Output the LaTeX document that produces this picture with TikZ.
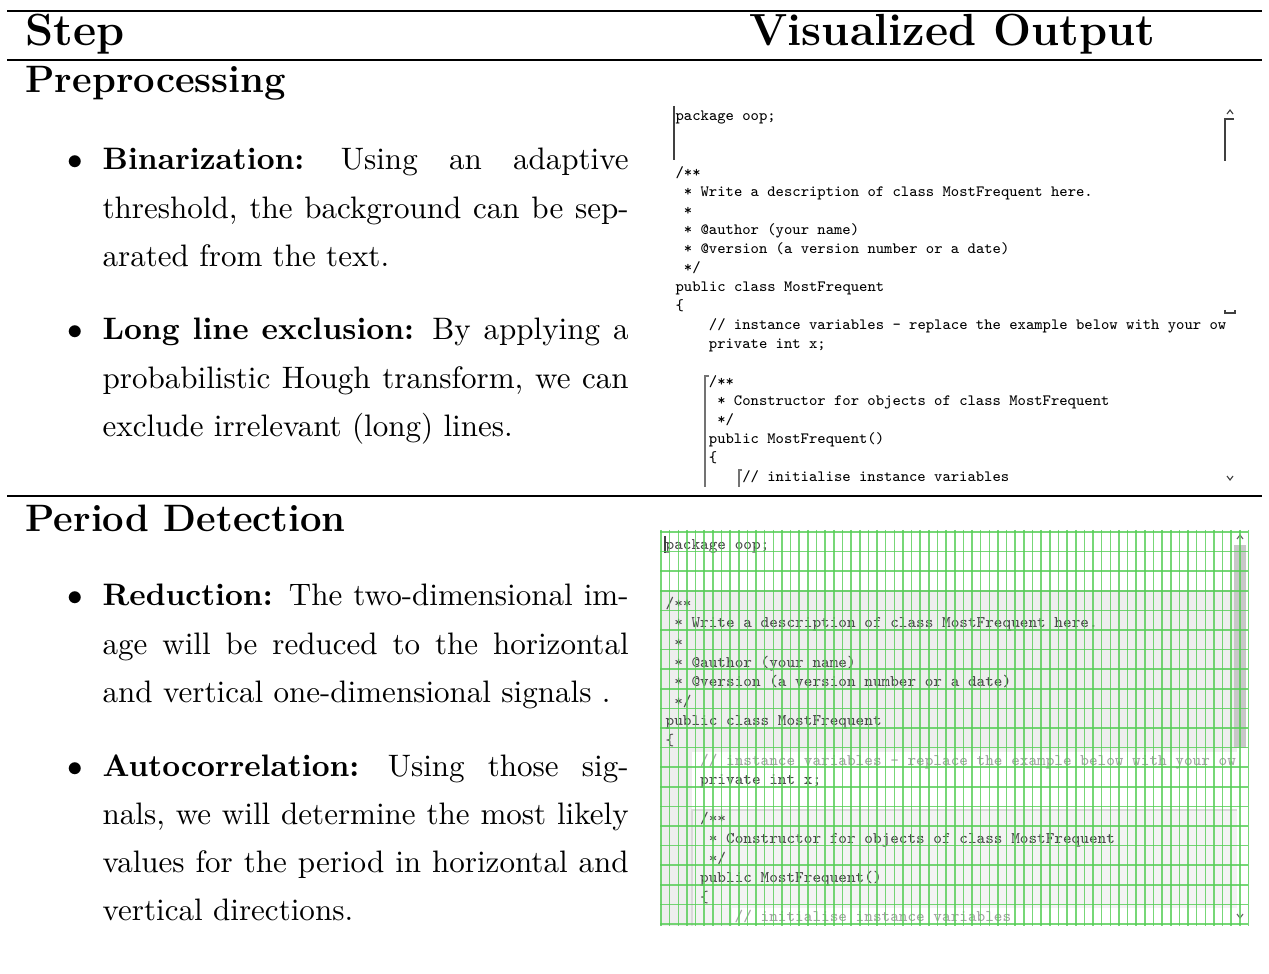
\documentclass[tikz,border=0pt]{standalone}
\usepackage{fontspec}
\usepackage{tikz}

\definecolor{gridgreen}{RGB}{85,205,85}
\definecolor{scopegray}{RGB}{238,238,238}
\definecolor{methodgray}{RGB}{243,243,243}
\definecolor{thumbgray}{RGB}{200,200,200}
\definecolor{codegray}{RGB}{75,75,75}
\definecolor{commentgray}{RGB}{165,165,165}

\newcommand{\fullline}[1]{\makebox[169.4pt][s]{\spaceskip=0.333em plus 1fil minus 0.111em\relax #1}}
\newcommand{\colgap}{\hspace{0pt plus 1fil}}

\tikzset{
  colhead/.style={anchor=base west, inner sep=0pt, font=\fontsize{14.5}{18}\selectfont\bfseries},
  rowhead/.style={anchor=base west, inner sep=0pt, font=\fontsize{12.3}{15}\selectfont\bfseries},
  itembox/.style={anchor=base west, inner sep=0pt, text width=169.4pt, font=\fontsize{10}{15.46}\selectfont},
  itemdot/.style={anchor=base, inner sep=0pt, font=\fontsize{10}{15}\selectfont},
  codeone/.style={anchor=base west, inner sep=0pt, font=\fontsize{5.06}{6}\selectfont\ttfamily},
  codetwo/.style={anchor=base west, inner sep=0pt, font=\fontsize{5.24}{6}\selectfont\ttfamily},
  tabrule/.style={line width=0.6pt},
  gridline/.style={gridgreen, line width=0.5pt, opacity=0.8},
  uimark/.style={line width=0.35pt, black!75},
}

\begin{document}
\begin{tikzpicture}[x=0.322pt, y=-0.322pt]
\fill[white] (0,0) rectangle (1269,974);
\useasboundingbox (0,0) rectangle (1269,974);

%Table Rules
\draw[tabrule] (7,11) -- (1262,11);
\draw[tabrule] (7,60) -- (1262,60);
\draw[tabrule] (7,496) -- (1262,496);

%Headers
\node[colhead] (step) at (25,46) {Step};
\node[colhead] (vis) at (749,46) {Visualized Output};
\node[rowhead] (pre) at (25,93) {Preprocessing};
\node[rowhead] (per) at (25,531) {Period Detection};

%Bullet Items
\foreach \n/\y in {bin/170,lle/340,red/606,aut/776}
  \node[itemdot] (dot-\n) at (75,\y) {$\bullet$};
\node[itembox] (bin) at (102,170) {\fullline{\textbf{Binarization:}\colgap{} Using an adaptive}\\
  \fullline{threshold, the background can be sep-}\\ arated from the text.};
\node[itembox] (lle) at (102,340) {\fullline{\textbf{Long line exclusion:}\colgap{} By applying a}\\
  \fullline{probabilistic Hough transform, we can}\\ exclude irrelevant (long) lines.};
\node[itembox] (red) at (102,606) {\fullline{\textbf{Reduction:}\colgap{} The two-dimensional im-}\\
  \fullline{age will be reduced to the horizontal}\\ and vertical one-dimensional signals .};
\node[itembox] (aut) at (102,776) {\fullline{\textbf{Autocorrelation:}\colgap{} Using those sig-}\\
  \fullline{nals, we will determine the most likely}\\ \fullline{values for the period in horizontal and}\\
  vertical directions.};

%Output 1: plain editor
\foreach \row/\ind/\txt in {0/0/{package oop;},3/0/{/**},
    4/1/{* Write a description of class MostFrequent here.},5/1/{*},
    6/1/{* @author (your name)},7/1/{* @version (a version number or a date)},
    8/1/{*/},9/0/{public class MostFrequent},10/0/{\{},
    11/4/{// instance variables - replace the example below with your ow},
    12/4/{private int x;},14/4/{/**},
    15/5/{* Constructor for objects of class MostFrequent},16/5/{*/},
    17/4/{public MostFrequent()},18/4/{\{},19/8/{// initialise instance variables}}
  \node[codeone] (one-\row) at (675+\ind*8.33,121+\row*19) {\txt};
\draw[uimark] (674,106) -- (674,160);
\draw[uimark, black!55] (709,376) -- (705,376) -- (705,487);
\draw[uimark, black!55] (742,470) -- (739,470) -- (739,487);
\draw[uimark] (1227,114) -- (1230,110) -- (1233,114);
\draw[uimark] (1234,119) -- (1225,119) -- (1225,161);
\draw[uimark] (1225,310) -- (1225,313) -- (1235,313) -- (1235,310);
\draw[uimark] (1227,476) -- (1230,480) -- (1233,476);

%Output 2: editor with period grid
\fill[scopegray] (660,591) rectangle (1237,926);
\draw[black!15] (660,591) -- (1237,591);
\fill[white] (692,752) rectangle (1237,810);
\fill[methodgray] (692,810) rectangle (1237,926);
\draw[black!15] (692,926) -- (692,810) -- (1237,810);
\fill[white] (732,908) rectangle (1237,926);
\fill[thumbgray] (1234,545) rectangle (1246,748);
\foreach \row/\ind/\col/\txt in {0/0/codegray/{package oop;},3/0/codegray/{/**},
    4/1/codegray/{* Write a description of class MostFrequent here.},5/1/codegray/{*},
    6/1/codegray/{* @author (your name)},7/1/codegray/{* @version (a version number or a date)},
    8/1/codegray/{*/},9/0/codegray/{public class MostFrequent},10/0/codegray/{\{},
    11/4/commentgray/{// instance variables - replace the example below with your ow},
    12/4/codegray/{private int x;},14/4/codegray/{/**},
    15/5/codegray/{* Constructor for objects of class MostFrequent},16/5/codegray/{*/},
    17/4/codegray/{public MostFrequent()},18/4/codegray/{\{},
    19/8/commentgray/{// initialise instance variables}}
  \node[codetwo, text=\col] (two-\row) at (665+\ind*8.64,549.5+\row*19.6) {\txt};
\draw[uimark] (665,536) -- (665,553);
\draw[uimark, black!60] (1237,539) -- (1240,535) -- (1243,539);
\draw[uimark, black!60] (1237,914) -- (1240,918) -- (1243,914);
\foreach \k in {0,...,68}
  \draw[gridline] (661+\k*8.64,530) -- (661+\k*8.64,926);
\foreach \k in {0,...,20}
  \draw[gridline] (660,532+\k*19.6) -- (1248,532+\k*19.6);
\end{tikzpicture}
\end{document}
